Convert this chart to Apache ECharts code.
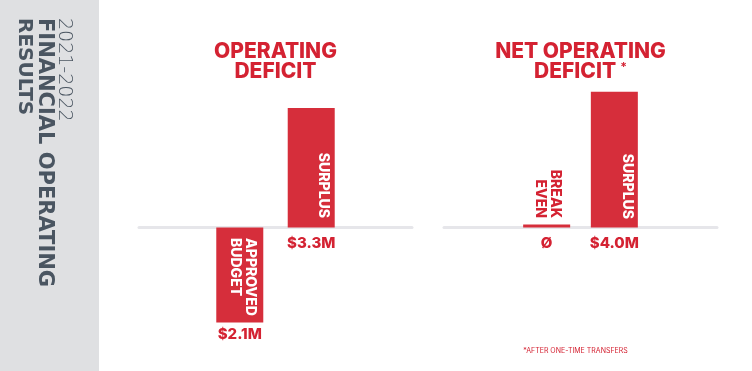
<!DOCTYPE html>
<html><head><meta charset="utf-8">
<script src="https://cdn.jsdelivr.net/npm/echarts@6/dist/echarts.min.js"></script>
<style>html,body{margin:0;padding:0;background:#fff}#c{width:752px;height:371px}</style>
</head><body><div id="c"></div>
<script>
// ---- data ----
const panels = ['OPERATING DEFICIT', 'NET OPERATING DEFICIT'];
const opNames = ['APPROVED\nBUDGET', 'SURPLUS'];
const opValues = [-2.1, 3.3];
const opLabels = ['$2.1M', '$3.3M'];
const netNames = ['BREAK\nEVEN', 'SURPLUS'];
const netValues = [0, 4.0];
const netLabels = ['Ø', '$4.0M'];
const sideTitle = ['2021-2022', 'FINANCIAL OPERATING', 'RESULTS'];
const footnote = '*AFTER ONE-TIME TRANSFERS';

// ---- style / layout ----
const RED = '#d62e3b', TXT = '#d42232', GREY_LINE = '#e6e6ea', SIDE = '#dfe0e2', SLATE = '#4a5561';
const FONT = 'Inter, "Open Sans", sans-serif';
const GRID_TOP = 40, GRID_H = 295, ZERO_Y = 227.5;
function range(pxPerUnit) {
  return { min: -(GRID_TOP + GRID_H - ZERO_Y) / pxPerUnit, max: (ZERO_Y - GRID_TOP) / pxPerUnit };
}
function yAxis(grid, pxPerUnit) {
  return Object.assign({ type: 'value', gridIndex: grid, show: false }, range(pxPerUnit));
}
function xAxis(grid, cat) {
  return {
    type: 'category', gridIndex: grid, data: [cat],
    axisLine: { show: true, onZero: true, lineStyle: { color: GREY_LINE, width: 3 } },
    axisTick: { show: false }, axisLabel: { show: false }, splitLine: { show: false }
  };
}
function valueLabel(text, dist) {
  return { show: true, position: 'bottom', distance: dist, formatter: text, color: TXT,
    fontFamily: FONT, fontWeight: 800, fontSize: 15 };
}
function nameMark(cat, text, opts) {
  return {
    symbol: 'circle', symbolSize: 1, silent: true, animation: false,
    itemStyle: { color: 'rgba(0,0,0,0)' },
    label: Object.assign({ show: true, position: 'inside', rotate: -90, formatter: text,
      fontFamily: FONT, fontWeight: 800, fontSize: 14, lineHeight: 15, color: '#fff',
      verticalAlign: 'middle' }, opts),
    data: [{ coord: [cat, 0] }]
  };
}
function bar(name, xi, yi, value, gap, lbl, mark, extra) {
  return Object.assign({
    type: 'bar', name: name, xAxisIndex: xi, yAxisIndex: yi, data: [value],
    barWidth: 47, barGap: gap, itemStyle: { color: RED }, label: lbl, markPoint: mark
  }, extra || {});
}

const chart = echarts.init(document.getElementById('c'));
chart.setOption({
  animation: false,
  backgroundColor: '#fff',
  grid: [
    { left: 139, width: 273, top: GRID_TOP, height: GRID_H, containLabel: false },
    { left: 444, width: 273, top: GRID_TOP, height: GRID_H, containLabel: false }
  ],
  xAxis: [xAxis(0, panels[0]), xAxis(1, panels[1])],
  yAxis: [yAxis(0, 36.2), yAxis(0, 45.2), yAxis(1, 33.95)],
  series: [
    bar(opNames[0], 0, 1, opValues[0], '52%', valueLabel(opLabels[0], 5),
      nameMark(panels[0], opNames[0], { align: 'left', offset: [10.5, -3] })),
    bar(opNames[1], 0, 0, opValues[1], '52%', valueLabel(opLabels[1], 8),
      nameMark(panels[0], opNames[1], { align: 'right', offset: [-9.5, -11.5] })),
    bar(netNames[0], 1, 2, netValues[0], '44%', valueLabel(netLabels[0], 8),
      nameMark(panels[1], netNames[0], { align: 'right', offset: [-9.5, -1.5], color: TXT }),
      { barMinHeight: 3 }),
    bar(netNames[1], 1, 2, netValues[1], '44%', valueLabel(netLabels[1], 8),
      nameMark(panels[1], netNames[1], { align: 'right', offset: [-8.5, -13] }))
  ],
  graphic: [
    { type: 'rect', silent: true, shape: { x: 0, y: 0, width: 99, height: 371 }, style: { fill: SIDE } },
    { type: 'text', x: 64, y: 18, rotation: -Math.PI / 2,
      style: { text: sideTitle[0], fill: SLATE, font: '200 19px "DejaVu Sans"', align: 'left', verticalAlign: 'middle' } },
    { type: 'text', x: 44.5, y: 18, rotation: -Math.PI / 2,
      style: { text: sideTitle[1], fill: SLATE, font: 'bold 21px "DejaVu Sans"', align: 'left', verticalAlign: 'middle' } },
    { type: 'text', x: 24.5, y: 18, rotation: -Math.PI / 2,
      style: { text: sideTitle[2], fill: SLATE, font: 'bold 20px "DejaVu Sans"', align: 'left', verticalAlign: 'middle' } },
    { type: 'text', x: 275.5, y: 42.25,
      style: { text: 'OPERATING\nDEFICIT', fill: TXT, font: '800 21px Inter', lineHeight: 19.5, align: 'center', verticalAlign: 'top' } },
    { type: 'text', x: 580.5, y: 42.25,
      style: { text: '{t|NET OPERATING}\n{t|DEFICIT}{s|*}', align: 'center', verticalAlign: 'top',
        rich: {
          t: { fill: TXT, font: '800 21px Inter', lineHeight: 19.5 },
          s: { fill: TXT, font: 'bold 12px Inter', lineHeight: 19.5, verticalAlign: 'top', padding: [0, 0, 0, 4] }
        } } },
    { type: 'text', x: 575.5, y: 350.5,
      style: { text: footnote, fill: TXT, font: '7px Inter', align: 'center', verticalAlign: 'middle' } }
  ]
});
</script></body></html>
